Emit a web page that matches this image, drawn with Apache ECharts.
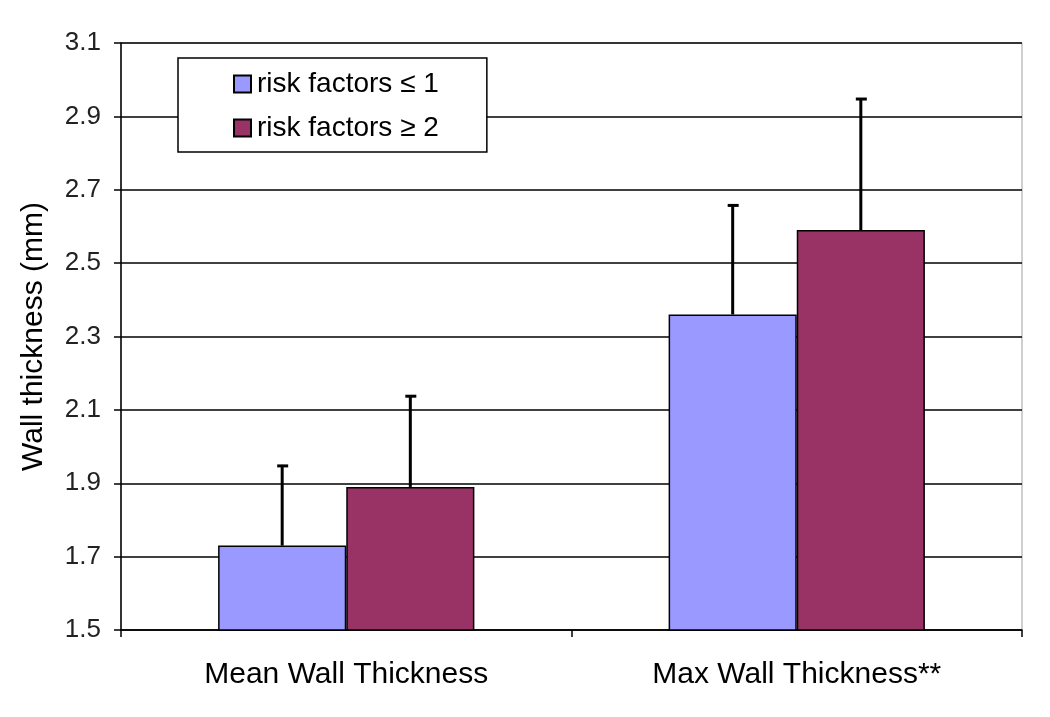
<!DOCTYPE html>
<html>
<head>
<meta charset="utf-8">
<script src="https://cdn.jsdelivr.net/npm/echarts@6/dist/echarts.min.js"></script>
<style>
html,body{margin:0;padding:0;background:#fff;}
#chart{width:1050px;height:717px;}
</style>
</head>
<body>
<div id="chart"></div>
<script>
const categories = ['Mean Wall Thickness', 'Max Wall Thickness**'];
const seriesNames = ['risk factors \u2264 1', 'risk factors \u2265 2'];
const lowRiskValues = [1.73, 2.36];
const lowRiskErrors = [0.22, 0.30];
const highRiskValues = [1.89, 2.59];
const highRiskErrors = [0.25, 0.36];
const yTicks = { min: 1.5, max: 3.1, interval: 0.2 };

const FONT = 'Liberation Sans, Arial, sans-serif';
const barFrac = 128 / 450;

function errorSeries(name, values, errors, sign) {
  return {
    type: 'custom',
    name: name + ' error',
    z: 5,
    silent: true,
    data: values.map((v, i) => [i, v, errors[i]]),
    renderItem: function (params, api) {
      const x = api.value(0), v = api.value(1), e = api.value(2);
      const bandW = api.size([1, 0])[0];
      const off = sign * bandW * barFrac / 2;
      const b = api.coord([x, v]);
      const t = api.coord([x, v + e]);
      const cx = b[0] + off;
      return {
        type: 'group',
        children: [
          { type: 'line', shape: { x1: cx, y1: b[1], x2: cx, y2: t[1] },
            style: { stroke: '#000', lineWidth: 3 } },
          { type: 'line', shape: { x1: cx - 5, y1: t[1] + 1, x2: cx + 6, y2: t[1] + 1 },
            style: { stroke: '#000', lineWidth: 3 } }
        ]
      };
    }
  };
}

const chart = echarts.init(document.getElementById('chart'));
chart.setOption({
  backgroundColor: '#fff',
  animation: false,
  grid: { left: 121, right: 28, top: 43, bottom: 87, show: true, borderColor: '#a0a0a0', borderWidth: 1 },
  legend: {
    data: seriesNames,
    orient: 'vertical',
    icon: 'rect',
    left: 178, top: 58,
    itemWidth: 17, itemHeight: 17,
    itemGap: 16,
    padding: [12, 48, 10, 55],
    backgroundColor: '#fff',
    borderColor: '#000',
    borderWidth: 1.5,
    textStyle: { fontFamily: FONT, fontSize: 28, color: '#000', padding: [0, 0, 0, 1] }
  },
  xAxis: {
    type: 'category',
    data: categories,
    axisLine: { lineStyle: { color: '#000', width: 1.5 } },
    axisTick: { show: true, length: 7, lineStyle: { color: '#000', width: 1.5 } },
    axisLabel: { fontFamily: FONT, fontSize: 30, color: '#000', margin: 30 }
  },
  yAxis: {
    type: 'value',
    min: yTicks.min, max: yTicks.max, interval: yTicks.interval,
    name: 'Wall thickness (mm)',
    nameLocation: 'middle',
    nameGap: 72,
    nameTextStyle: { fontFamily: FONT, fontSize: 30, color: '#000' },
    axisLine: { show: true, lineStyle: { color: '#000', width: 1.5 } },
    axisTick: { show: true, length: 7, lineStyle: { color: '#000', width: 1.5 } },
    splitLine: { lineStyle: { color: '#000', width: 1.5 } },
    axisLabel: { fontFamily: FONT, fontSize: 26, color: '#222', margin: 20,
      formatter: v => v.toFixed(1) }
  },
  series: [
    { type: 'bar', name: seriesNames[0], data: lowRiskValues, barWidth: (barFrac * 100) + '%', barGap: '0%',
      itemStyle: { color: '#9999FF', borderColor: '#000', borderWidth: 1.5 } },
    { type: 'bar', name: seriesNames[1], data: highRiskValues, barWidth: (barFrac * 100) + '%', barGap: '0%',
      itemStyle: { color: '#993366', borderColor: '#000', borderWidth: 1.5 } },
    errorSeries(seriesNames[0], lowRiskValues, lowRiskErrors, -1),
    errorSeries(seriesNames[1], highRiskValues, highRiskErrors, 1)
  ]
});
</script>
</body>
</html>
